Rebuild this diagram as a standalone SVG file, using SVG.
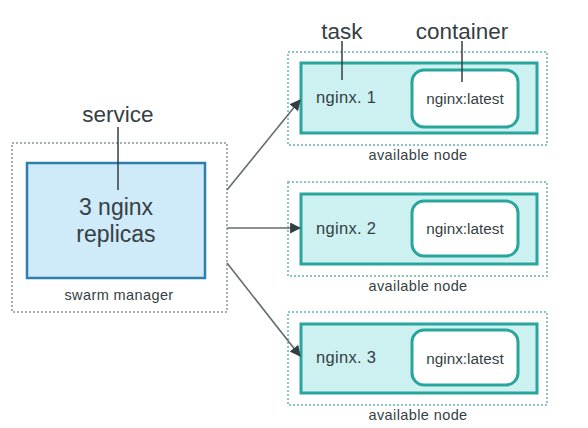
<svg xmlns="http://www.w3.org/2000/svg" width="588" height="428" viewBox="0 0 588 428">
<defs>
<style>
text{font-family:"Liberation Sans",Arial,sans-serif;fill:#353f44}
.lbl{font-size:22.5px;text-anchor:middle}
.big{font-size:23px;text-anchor:middle}
.small{font-size:14.5px;text-anchor:middle;letter-spacing:0.4px}
.task{font-size:16.5px;letter-spacing:0.3px}
.cont{font-size:15.3px;text-anchor:middle}
.dotg{fill:none;stroke:#a4aeb3;stroke-width:2;stroke-dasharray:2 2}
.dott{fill:none;stroke:#8cc6c3;stroke-width:2;stroke-dasharray:2 2}
.svc{fill:#cfeaf8;stroke:#2f7fae;stroke-width:2.5}
.tsk{fill:#cdf0f1;stroke:#2aa59e;stroke-width:3}
.ctr{fill:#ffffff;stroke:#2aa59e;stroke-width:3}
.pin{stroke:#353f44;stroke-width:1.5}
.conn{stroke:#666b6e;stroke-width:1.6;fill:none;marker-end:url(#ah)}
</style>
<marker id="ah" viewBox="0 0 10 10" refX="9" refY="5" markerWidth="11" markerHeight="11" markerUnits="userSpaceOnUse" orient="auto">
<path d="M0,0 L10,5 L0,10 z" fill="#2f3f45"/>
</marker>
</defs>
<rect width="588" height="428" fill="#ffffff"/>
<g id="manager">
<rect class="dotg" x="12" y="143" width="215" height="169"/>
<rect class="svc" x="27" y="163" width="178" height="115"/>
<text class="lbl" x="118" y="122">service</text>
<line class="pin" x1="118" y1="127" x2="118" y2="190"/>
<text class="big" x="116" y="215">3 nginx</text>
<text class="big" x="116" y="242">replicas</text>
<text class="small" x="119" y="300">swarm manager</text>
</g>
<g id="node1">
<rect class="dott" x="288" y="52" width="259" height="93"/>
<rect class="tsk" x="301" y="63" width="236" height="70"/>
<rect class="ctr" x="412" y="70" width="106" height="57" rx="12"/>
<text class="lbl" x="342" y="39">task</text>
<line class="pin" x1="342" y1="41" x2="342" y2="80"/>
<text class="lbl" x="462" y="39">container</text>
<line class="pin" x1="462" y1="41" x2="462" y2="82"/>
<text class="task" x="316" y="103">nginx. 1</text>
<text class="cont" x="465" y="104">nginx:latest</text>
<text class="small" x="418" y="160">available node</text>
</g>
<g id="node2">
<rect class="dott" x="288" y="182" width="259" height="94"/>
<rect class="tsk" x="301" y="194" width="236" height="70"/>
<rect class="ctr" x="412" y="201" width="106" height="55" rx="12"/>
<text class="task" x="316" y="234">nginx. 2</text>
<text class="cont" x="465" y="234">nginx:latest</text>
<text class="small" x="418" y="291">available node</text>
</g>
<g id="node3">
<rect class="dott" x="288" y="312" width="259" height="93"/>
<rect class="tsk" x="301" y="324" width="236" height="69"/>
<rect class="ctr" x="412" y="330" width="106" height="55" rx="12"/>
<text class="task" x="316" y="363">nginx. 3</text>
<text class="cont" x="465" y="364">nginx:latest</text>
<text class="small" x="418" y="420">available node</text>
</g>
<g id="connectors">
<line class="conn" x1="227" y1="190" x2="300" y2="100"/>
<line class="conn" x1="227" y1="228" x2="300" y2="228"/>
<line class="conn" x1="227" y1="263" x2="300" y2="356"/>
</g>
</svg>
